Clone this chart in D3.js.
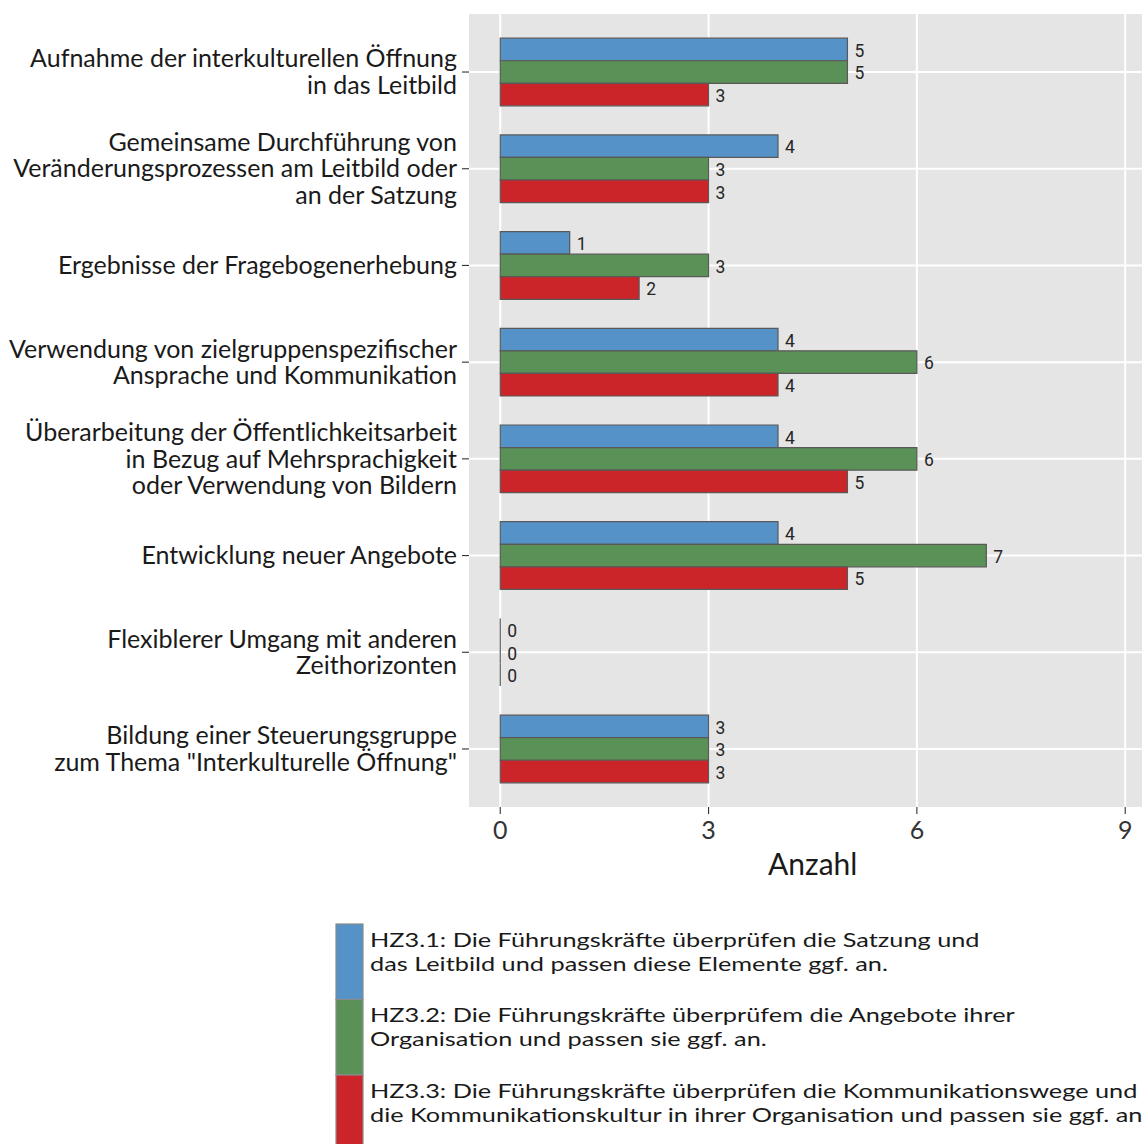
<!DOCTYPE html>
<html>
<head>
<meta charset="utf-8">
<script src="https://cdn.jsdelivr.net/npm/d3@7"></script>
<style>
  html, body { margin: 0; padding: 0; background: #ffffff; }
  svg { display: block; }
</style>
</head>
<body>
<svg id="chart" width="1142" height="1144"></svg>
<script>
// Measures reviewed, one entry per row (top to bottom)
const categories = [
  "Aufnahme der interkulturellen Öffnung\nin das Leitbild",
  "Gemeinsame Durchführung von\nVeränderungsprozessen am Leitbild oder\nan der Satzung",
  "Ergebnisse der Fragebogenerhebung",
  "Verwendung von zielgruppenspezifischer\nAnsprache und Kommunikation",
  "Überarbeitung der Öffentlichkeitsarbeit\nin Bezug auf Mehrsprachigkeit\noder Verwendung von Bildern",
  "Entwicklung neuer Angebote",
  "Flexiblerer Umgang mit anderen\nZeithorizonten",
  "Bildung einer Steuerungsgruppe\nzum Thema \"Interkulturelle Öffnung\""
];

// Counts per goal
const hz31 = [5, 4, 1, 4, 4, 4, 0, 3];
const hz32 = [5, 3, 3, 6, 6, 7, 0, 3];
const hz33 = [3, 3, 2, 4, 5, 5, 0, 3];

const seriesKeys = ["HZ3.1", "HZ3.2", "HZ3.3"];
const seriesLabels = [
  "HZ3.1: Die Führungskräfte überprüfen die Satzung und\ndas Leitbild und passen diese Elemente ggf. an.",
  "HZ3.2: Die Führungskräfte überprüfem die Angebote ihrer\nOrganisation und passen sie ggf. an.",
  "HZ3.3: Die Führungskräfte überprüfen die Kommunikationswege und\ndie Kommunikationskultur in ihrer Organisation und passen sie ggf. an."
];
const seriesColors = ["#5592c7", "#5a9156", "#cc2529"];

const xTicks = [0, 3, 6, 9];
const xLimits = [0, 9];
const axisTitle = "Anzahl";

const seriesValues = [hz31, hz32, hz33];
const rows = categories.map((c, i) => ({
  category: c,
  values: seriesKeys.map((k, j) => ({ key: k, value: seriesValues[j][i], idx: j }))
}));

const svg = d3.select("#chart");
const textFont = "Lato, 'Open Sans', sans-serif";
const numFont = "Roboto, 'Liberation Sans', sans-serif";

// Panel geometry
const panel = { left: 469, top: 14, bottom: 807 };
const tickLen = 7;
const pad = (xLimits[1] - xLimits[0]) * 0.05;
const x = d3.scaleLinear()
  .domain([xLimits[0] - pad, xLimits[1] + pad])
  .range([panel.left, panel.left + 9.9 * 69.44]);

const y = d3.scalePoint()
  .domain(categories)
  .range([panel.top, panel.bottom])
  .padding(0.6);

const groupH = y.step() * 0.7;
const barH = groupH / 3;

// Panel background
svg.append("rect")
  .attr("x", panel.left).attr("y", panel.top)
  .attr("width", x.range()[1] - panel.left)
  .attr("height", panel.bottom - panel.top)
  .attr("fill", "#e5e5e5");

// Grid lines
const grid = svg.append("g");
grid.selectAll("line.v").data(xTicks).join("line")
  .attr("x1", d => x(d)).attr("x2", d => x(d))
  .attr("y1", panel.top).attr("y2", panel.bottom)
  .attr("stroke", "#ffffff").attr("stroke-width", 2);
grid.selectAll("line.h").data(categories).join("line")
  .attr("x1", panel.left).attr("x2", x.range()[1])
  .attr("y1", d => y(d)).attr("y2", d => y(d))
  .attr("stroke", "#ffffff").attr("stroke-width", 2);

// Bars (paths so zero-length bars still show their outline)
const groups = svg.append("g").selectAll("g").data(rows).join("g")
  .attr("transform", d => `translate(0,${y(d.category) - groupH / 2})`);

groups.selectAll("path").data(d => d.values).join("path")
  .attr("d", d => {
    const x0 = x(0), w = x(d.value) - x(0), y0 = d.idx * barH;
    return `M${x0},${y0}h${w}v${barH}h${-w}Z`;
  })
  .attr("fill", d => seriesColors[d.idx])
  .attr("stroke", "#595959")
  .attr("stroke-width", 1.2);

groups.selectAll("text").data(d => d.values).join("text")
  .attr("x", d => x(d.value) + 7)
  .attr("y", d => d.idx * barH + barH / 2 + 1)
  .attr("dy", "0.36em")
  .attr("font-family", numFont)
  .attr("font-size", 17.5)
  .attr("fill", "#262626")
  .text(d => d.value);

// Category labels (fitted so the widest line reaches the tick)
const catAxis = svg.append("g");
const labelRight = panel.left - tickLen - 5;
const probe = svg.append("text").attr("font-family", textFont).attr("font-size", 20)
  .text("Aufnahme der interkulturellen Öffnung");
const probeW = probe.node().getComputedTextLength();
probe.remove();
const catSize = 20 * 427 / probeW;
const catLine = 26.6;

categories.forEach(c => {
  const lines = c.split("\n");
  const cy = y(c);
  const t = catAxis.append("text")
    .attr("font-family", textFont)
    .attr("font-size", catSize)
    .attr("fill", "#1a1a1a")
    .attr("text-anchor", "end");
  lines.forEach((ln, k) => {
    t.append("tspan")
      .attr("x", labelRight)
      .attr("y", cy + (k - (lines.length - 1) / 2) * catLine)
      .attr("dy", "0.35em")
      .text(ln);
  });
  catAxis.append("line")
    .attr("x1", panel.left - tickLen).attr("x2", panel.left)
    .attr("y1", cy).attr("y2", cy)
    .attr("stroke", "#333").attr("stroke-width", 1.1);
});

// X axis
const xAxis = svg.append("g");
xAxis.selectAll("line").data(xTicks).join("line")
  .attr("x1", d => x(d)).attr("x2", d => x(d))
  .attr("y1", panel.bottom).attr("y2", panel.bottom + tickLen)
  .attr("stroke", "#333").attr("stroke-width", 1.1);
xAxis.selectAll("text").data(xTicks).join("text")
  .attr("x", d => x(d))
  .attr("y", 839)
  .attr("text-anchor", "middle")
  .attr("font-family", textFont)
  .attr("font-size", catSize)
  .attr("fill", "#333")
  .text(d => d);

svg.append("text")
  .attr("x", (panel.left + x.range()[1]) / 2)
  .attr("y", 875)
  .attr("text-anchor", "middle")
  .attr("font-family", textFont)
  .attr("font-size", catSize * 1.2)
  .attr("fill", "#1a1a1a")
  .text(axisTitle);

// Legend: keys stacked vertically, two-line labels widened to the key column
const legend = svg.append("g");
const keyX = 336, keyW = 27, keyH = 75.5, keyTop = 924;
const legSize = 20;
const probe2 = svg.append("text").attr("font-family", textFont).attr("font-size", legSize)
  .text("HZ3.3: Die Führungskräfte überprüfen die Kommunikationswege und");
const probe2W = probe2.node().getComputedTextLength();
probe2.remove();
const legStretch = 768 / probe2W;

seriesLabels.forEach((lab, i) => {
  const top = keyTop + i * keyH;
  legend.append("rect")
    .attr("x", keyX).attr("y", top)
    .attr("width", keyW).attr("height", keyH)
    .attr("fill", seriesColors[i])
    .attr("stroke", "#8a8a8a").attr("stroke-width", 1.2);
  const t = legend.append("text")
    .attr("transform", `translate(370,0) scale(${legStretch},1)`)
    .attr("font-family", textFont)
    .attr("font-size", legSize)
    .attr("fill", "#1a1a1a");
  lab.split("\n").forEach((ln, k) => {
    t.append("tspan")
      .attr("x", 0)
      .attr("y", top + 16 + k * 24)
      .attr("dy", "0.35em")
      .text(ln);
  });
});
</script>
</body>
</html>
